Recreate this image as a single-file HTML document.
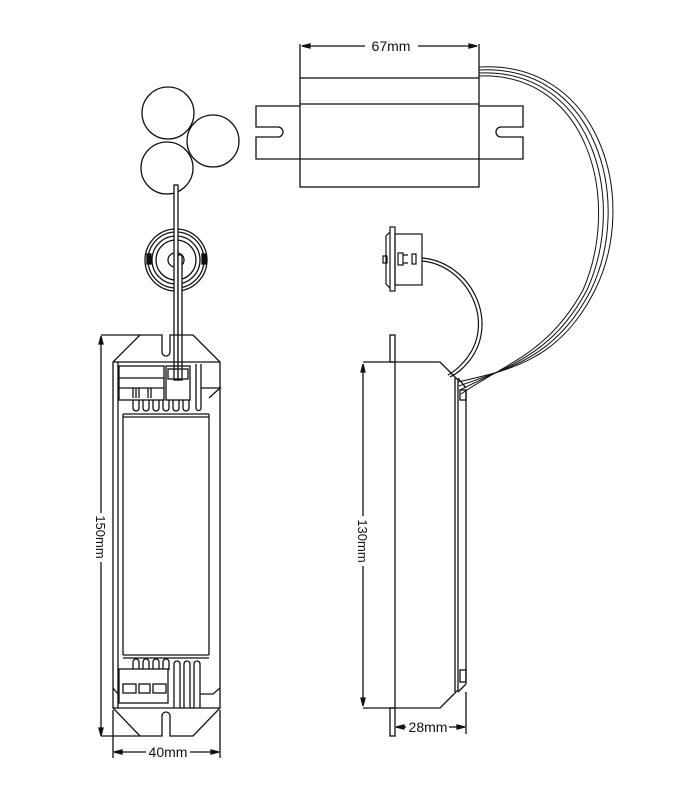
<!DOCTYPE html>
<html><head><meta charset="utf-8"><style>html,body{margin:0;padding:0;background:#fff}svg{display:block}</style></head>
<body>
<svg width="700" height="800" viewBox="0 0 700 800" xmlns="http://www.w3.org/2000/svg" fill="none" stroke="#111" stroke-width="1.3" font-family="Liberation Sans, sans-serif">
<!-- Top driver -->
<line x1="300" y1="44" x2="300" y2="78"/><line x1="479" y1="44" x2="479" y2="78"/>
<line x1="302" y1="46" x2="365" y2="46"/><line x1="418" y1="46" x2="477" y2="46"/>
<path d="M302 46 l8 -2 v4z M477 46 l-8 -2 v4z" fill="#111"/>
<text x="391" y="51" font-size="14" fill="#111" stroke="none" text-anchor="middle">67mm</text>
<rect x="300" y="78" width="179" height="109"/>
<line x1="300" y1="104" x2="479" y2="104"/><line x1="300" y1="159" x2="479" y2="159"/>
<path d="M300 106 H256 V127 H278 a5 5 0 0 1 0 10 H256 V159 H300"/>
<path d="M479 106 H523 V127 H501 a5 5 0 0 0 0 10 H523 V159 H479"/>
<!-- big cable -->
<g stroke-width="1">
<path d="M479 67 C600 60 640 200 595 290 C560 360 510 370 458 382"/>
<path d="M479 70 C596 64 634 200 591 290 C556 358 508 368 459 386"/>
<path d="M479 73 C592 68 628 200 587 290 C552 356 506 366 460 390"/>
<path d="M479 76 C588 72 622 200 583 290 C548 354 504 364 461 394"/>
</g>
<!-- sensor -->
<g stroke-width="1.2">
<rect x="390" y="227" width="5" height="64"/>
<path d="M390 232 L386 236 V284 L390 288"/>
<rect x="395" y="234" width="27" height="51"/>
<rect x="383" y="256" width="4" height="7"/>
<rect x="398" y="253" width="5" height="12"/><path d="M403 255 H408 M403 263 H408"/>
<rect x="412" y="254" width="4" height="10"/>
<path d="M422 258 C470 262 500 320 470 360 C465 366 460 372 450 377"/>
<path d="M422 261 C466 265 496 320 467 358 C462 364 457 370 448 375"/>
</g>
<!-- side view -->
<rect x="390" y="335" width="5" height="27"/>
<rect x="390" y="708" width="5" height="28"/>
<path d="M363 362 H440 L458 380 V690 L440 708 H363"/>
<line x1="395" y1="362" x2="395" y2="708"/>
<line x1="455" y1="378" x2="455" y2="692"/>
<line x1="466" y1="390" x2="466" y2="684"/>
<path d="M458 378 L466 388 M458 692 L466 684"/>
<rect x="460" y="390" width="6" height="10"/><rect x="460" y="670" width="6" height="12"/>
<line x1="363" y1="366" x2="363" y2="516"/><line x1="363" y1="566" x2="363" y2="704"/>
<path d="M363 364 l-2 8 h4z M363 706 l-2 -8 h4z" fill="#111"/>
<text transform="translate(358 541) rotate(90)" font-size="13" fill="#111" stroke="none" text-anchor="middle">130mm</text>
<line x1="466" y1="692" x2="466" y2="734"/>
<line x1="396" y1="727" x2="406" y2="727"/><line x1="449" y1="727" x2="464" y2="727"/>
<path d="M396 727 l8 -2 v4z M465 727 l-8 -2 v4z" fill="#111"/>
<text x="428" y="732" font-size="14" fill="#111" stroke="none" text-anchor="middle">28mm</text>
<!-- circles -->
<circle cx="168" cy="113" r="26"/><circle cx="213" cy="141" r="26"/><circle cx="167" cy="168" r="26"/>
<!-- grommet -->
<circle cx="176" cy="260" r="31"/><circle cx="176" cy="260" r="28"/><circle cx="176" cy="260" r="24"/><circle cx="176" cy="260" r="20"/>
<rect x="168" y="253" width="16" height="14" rx="7"/>
<rect x="147" y="254" width="4" height="10" fill="#111"/><rect x="202" y="254" width="4" height="10" fill="#111"/>
<!-- wire -->
<rect x="174" y="185" width="4" height="195" fill="#fff"/>
<rect x="178" y="255" width="4" height="125" fill="#fff"/>
<!-- left device -->
<line x1="101" y1="337" x2="101" y2="513"/><line x1="101" y1="562" x2="101" y2="735"/>
<path d="M101 336 l-2 8 h4z M101 736 l-2 -8 h4z" fill="#111"/>
<text transform="translate(96 537) rotate(90)" font-size="13" fill="#111" stroke="none" text-anchor="middle">150mm</text>
<path d="M101 335 H140 M101 736 H140"/>
<path d="M113 362 L140 335 H162 V352 a4 4 0 0 0 8 0 V335 H193 L220 362 V708 L193 736 H170 V716 a4 4 0 0 0 -8 0 V736 H140 L113 708 Z"/>
<line x1="113" y1="362" x2="220" y2="362"/><line x1="113" y1="708" x2="220" y2="708"/>
<line x1="123" y1="414" x2="123" y2="655"/><line x1="209" y1="414" x2="209" y2="655"/>
<line x1="123" y1="414" x2="209" y2="414"/><line x1="123" y1="417" x2="209" y2="417"/>
<line x1="123" y1="655" x2="209" y2="655"/><line x1="123" y1="658" x2="209" y2="658"/>
<line x1="118" y1="362" x2="118" y2="708"/>
<!-- top connectors -->
<rect x="119" y="366" width="45" height="34"/>
<line x1="119" y1="378" x2="164" y2="378"/><line x1="119" y1="388" x2="164" y2="388"/>
<path d="M133 388 V398 M136 388 V398 M139 388 V398 M148 388 V398 M151 388 V398"/>
<rect x="166" y="366" width="24" height="34"/>
<rect x="168" y="369" width="20" height="10"/>
<path d="M196 364 V408 M201 364 V408 M201 388 H220 L209 398"/>
<path d="M133 400 v8 a3 3 0 0 0 6 0 v-8 M143 400 v8 a3 3 0 0 0 6 0 v-8 M153 400 v8 a3 3 0 0 0 6 0 v-8 M163 400 v8 a3 3 0 0 0 6 0 v-8 M173 400 v8 a3 3 0 0 0 6 0 v-8 M183 400 v8 a3 3 0 0 0 6 0 v-8 M196 408 a2.5 2.5 0 0 0 5 0"/>
<!-- bottom connectors -->
<path d="M133 670 v-8 a3 3 0 0 1 6 0 v8 M143 670 v-8 a3 3 0 0 1 6 0 v8 M153 670 v-8 a3 3 0 0 1 6 0 v8 M163 670 v-8 a3 3 0 0 1 6 0 v8"/>
<path d="M174 708 V664 a3 3 0 0 1 6 0 V708 M184 708 V664 a3 3 0 0 1 6 0 V708 M194 708 V664 a3 3 0 0 1 6 0 V708"/>
<rect x="119" y="669" width="49" height="34" fill="#fff"/>
<rect x="123" y="684" width="13" height="9"/><rect x="139" y="684" width="11" height="9"/><rect x="153" y="684" width="13" height="9"/>
<path d="M113 688 L118 694 M220 688 L213 694 L200 694"/>
<!-- 40mm -->
<line x1="113" y1="710" x2="113" y2="758"/><line x1="220" y1="710" x2="220" y2="758"/>
<line x1="115" y1="752" x2="146" y2="752"/><line x1="190" y1="752" x2="218" y2="752"/>
<path d="M114 752 l8 -2 v4z M219 752 l-8 -2 v4z" fill="#111"/>
<text x="168" y="757" font-size="14" fill="#111" stroke="none" text-anchor="middle">40mm</text>
</svg>
</body></html>
